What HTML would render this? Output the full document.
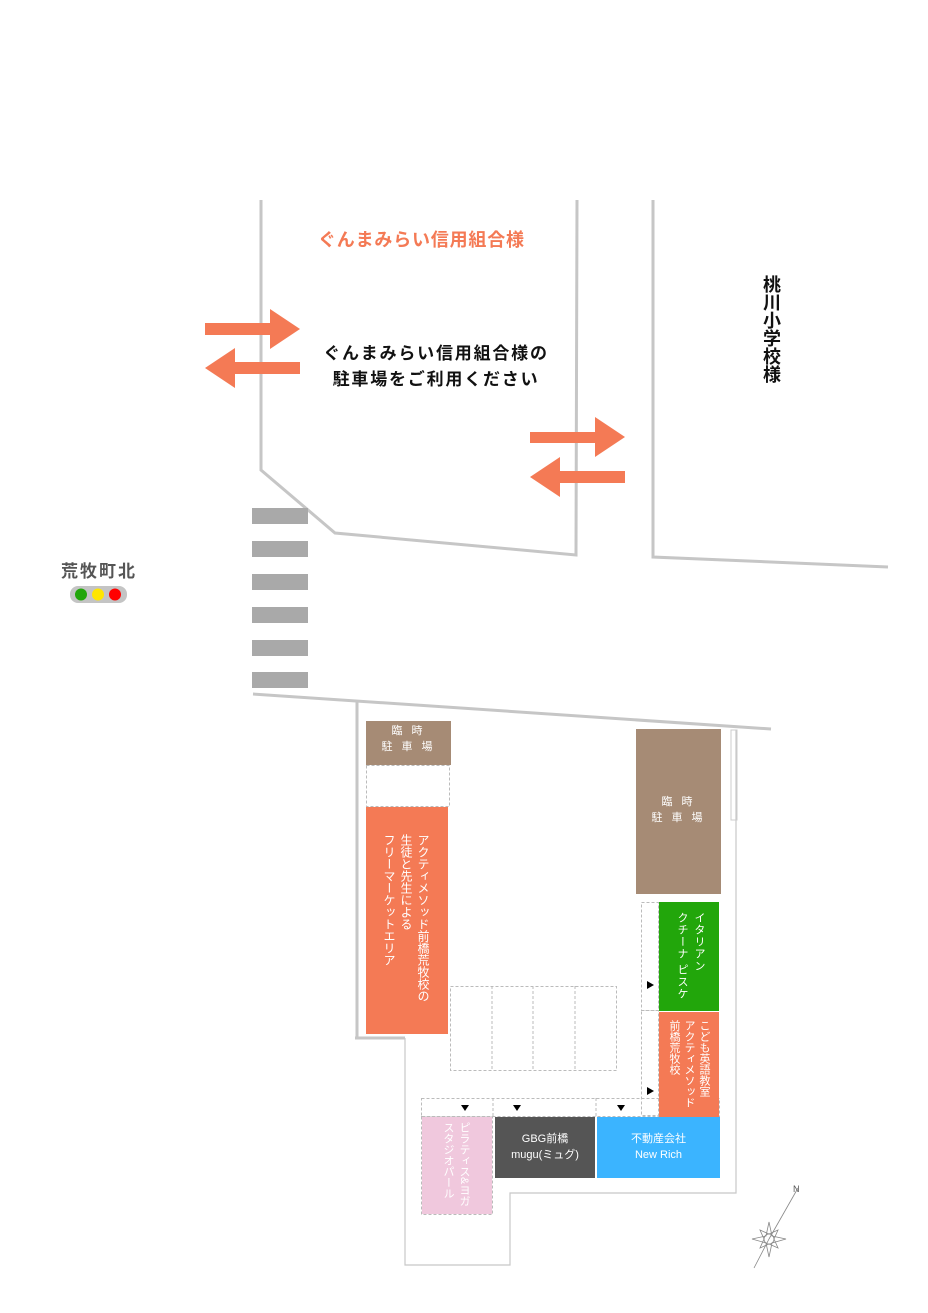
<!DOCTYPE html>
<html><head><meta charset="utf-8">
<style>
html,body{margin:0;padding:0;background:#fff}
body{width:928px;height:1313px;position:relative;overflow:hidden;font-family:"Liberation Sans","Noto Sans CJK JP",sans-serif}
.t{position:absolute;white-space:nowrap}
.v{writing-mode:vertical-rl;position:absolute;white-space:nowrap;color:#fff}
</style></head><body>
<svg width="928" height="1313" style="position:absolute;left:0;top:0">
<g fill="none" stroke="#c6c6c6" stroke-width="3">
<polyline points="261,200 261,470 335,533 576,555 577,200"/>
<polyline points="653,200 653,557 888,567"/>
<line x1="253" y1="694" x2="771" y2="729"/>
<line x1="357" y1="700" x2="357" y2="1038"/>
<line x1="355" y1="1038" x2="405" y2="1038"/>
</g>
<g fill="none" stroke="#c8c8c8" stroke-width="1.2">
<polyline points="405,1038 405,1265 510,1265 510,1193 736,1193 736,730"/>
</g>
<g fill="#a9a9a9">
<rect x="252" y="508" width="56" height="16"/><rect x="252" y="541" width="56" height="16"/>
<rect x="252" y="574" width="56" height="16"/><rect x="252" y="607" width="56" height="16"/>
<rect x="252" y="640" width="56" height="16"/><rect x="252" y="672" width="56" height="16"/>
</g>
<g fill="#f47a55">
<polygon points="205,323 270,323 270,309 300,329 270,349 270,335 205,335"/>
<polygon points="300,362 235,362 235,348 205,368 235,388 235,374 300,374"/>
<polygon points="530,432 595,432 595,417 625,437 595,457 595,443 530,443"/>
<polygon points="625,471 560,471 560,457 530,477 560,497 560,483 625,483"/>
</g>
<rect x="70" y="586" width="57" height="17" rx="8" fill="#c4c4c4"/>
<circle cx="81" cy="594.5" r="6" fill="#22a60b"/><circle cx="98" cy="594.5" r="6" fill="#ffe600"/><circle cx="115" cy="594.5" r="6" fill="#f00"/>
<rect x="366" y="721" width="85" height="44" fill="#a68b75"/>
<rect x="366.5" y="765.5" width="83" height="41" fill="none" stroke="#bbb" stroke-dasharray="3,2"/>
<rect x="366" y="807" width="82" height="227" fill="#f47a55"/>
<rect x="636" y="729" width="85" height="165" fill="#a68b75"/>
<rect x="731" y="730" width="6" height="90" fill="none" stroke="#ccc"/>
<g fill="none" stroke="#bbb" stroke-dasharray="3,2">
<rect x="450.5" y="986.5" width="166" height="84"/>
<line x1="492" y1="986" x2="492" y2="1070"/><line x1="533" y1="986" x2="533" y2="1070"/><line x1="575" y1="986" x2="575" y2="1070"/>
<rect x="641.5" y="902.5" width="17" height="108"/>
<rect x="641.5" y="1010.5" width="17" height="105"/>
<rect x="421.5" y="1098.5" width="298" height="18"/>
<line x1="493" y1="1098" x2="493" y2="1116"/><line x1="596" y1="1098" x2="596" y2="1116"/>
<rect x="421.5" y="1116.5" width="71" height="98"/>
</g>
<g fill="#000">
<polygon points="647,981 654,985 647,989"/><polygon points="647,1087 654,1091 647,1095"/>
<polygon points="461,1105 469,1105 465,1111"/><polygon points="513,1105 521,1105 517,1111"/><polygon points="617,1105 625,1105 621,1111"/>
</g>
<rect x="659" y="902" width="60" height="109" fill="#22a60b"/>
<rect x="659" y="1012" width="60" height="105" fill="#f47a55"/>
<rect x="422" y="1117" width="70" height="97" fill="#f0c8dd"/>
<rect x="495" y="1117" width="100" height="61" fill="#555"/>
<rect x="597" y="1117" width="123" height="61" fill="#3bb4ff"/>
<g stroke="#888" fill="none" stroke-width="0.8">
<polygon points="769,1222 772,1236 786,1239 772,1243 769,1257 766,1243 752,1239 766,1236"/>
<polygon points="760,1230 769,1234 778,1230 774,1239 778,1248 769,1244 760,1248 764,1239"/>
<circle cx="769" cy="1239" r="5"/>
<line x1="769" y1="1239" x2="798" y2="1188"/>
<line x1="769" y1="1239" x2="754" y2="1268"/>
</g>
<text x="793" y="1192" font-size="9" fill="#555" font-family="Liberation Sans">N</text>
</svg>
<div class="t" style="left:318px;top:226px;font-size:18px;font-weight:bold;color:#f47a55;letter-spacing:0.8px">ぐんまみらい信用組合様</div>
<div class="t" style="left:316px;top:341px;width:240px;font-size:17px;font-weight:bold;color:#111;text-align:center;line-height:26px;letter-spacing:1.8px">ぐんまみらい信用組合様の<br>駐車場をご利用ください</div>
<div class="v" style="left:760px;top:275px;font-size:18px;font-weight:bold;color:#111;line-height:22px">桃川小学校様</div>
<div class="t" style="left:61px;top:557px;font-size:17px;font-weight:bold;color:#555;letter-spacing:2px">荒牧町北</div>
<div class="t" style="left:366px;top:723px;width:85px;text-align:center;font-size:11px;color:#fff;line-height:16px;letter-spacing:3px">臨 時<br>駐 車 場</div>
<div class="t" style="left:636px;top:794px;width:85px;text-align:center;font-size:11px;color:#fff;line-height:16px;letter-spacing:3px">臨 時<br>駐 車 場</div>
<div class="v" style="left:380px;top:834px;font-size:12px;line-height:17px">アクティメソッド前橋荒牧校の<br>生徒と先生による<br>フリーマーケットエリア</div>
<div class="v" style="left:673px;top:912px;font-size:11px;line-height:17px;letter-spacing:1px">イタリアン<br>クチーナ ピスケ</div>
<div class="v" style="left:666px;top:1020px;font-size:11px;line-height:15px">こども英語教室<br>アクティメソッド<br>前橋荒牧校</div>
<div class="v" style="left:440px;top:1122px;font-size:11px;line-height:16px;color:#fff">ピラティス&amp;ヨガ<br>スタジオパール</div>
<div class="t" style="left:495px;top:1131px;width:100px;text-align:center;font-size:11px;color:#fff;line-height:16px">GBG前橋<br>mugu(ミュグ)</div>
<div class="t" style="left:597px;top:1131px;width:123px;text-align:center;font-size:11px;color:#fff;line-height:16px">不動産会社<br>New Rich</div>
</body></html>
